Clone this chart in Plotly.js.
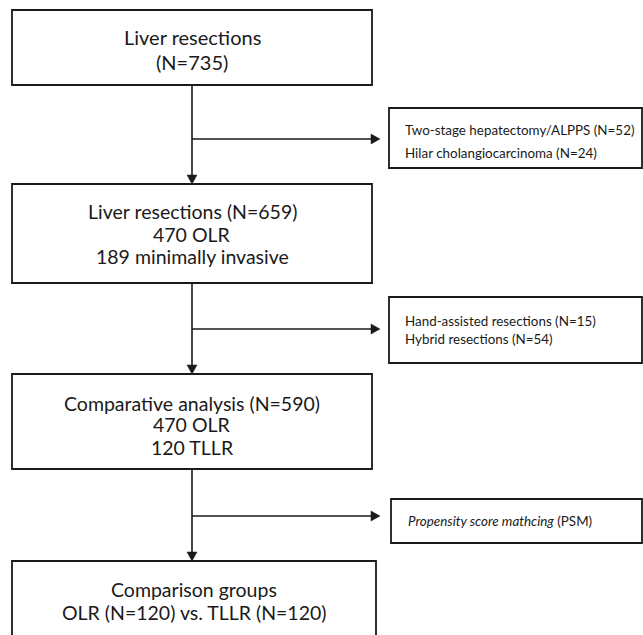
<!DOCTYPE html>
<html>
<head>
<meta charset="utf-8">
<script src="https://cdn.plot.ly/plotly-3.0.1.min.js"></script>
<style>html,body{margin:0;padding:0;background:#fff;}#chart{width:643px;height:635px;}</style>
</head>
<body>
<div id="chart"></div>
<script>
// ---- content (texts) ----
const mainBoxLines = [
  ["Liver resections", "(N=735)"],
  ["Liver resections (N=659)", "470 OLR", "189 minimally invasive"],
  ["Comparative analysis (N=590)", "470 OLR", "120 TLLR"],
  ["Comparison groups", "OLR (N=120) vs. TLLR (N=120)"]
];
const sideBoxLines = [
  ["Two-stage hepatectomy/ALPPS (N=52)", "Hilar cholangiocarcinoma (N=24)"],
  ["Hand-assisted resections (N=15)", "Hybrid resections (N=54)"],
  ["<i>Propensity score mathcing</i> (PSM)"]
];

// ---- geometry (layout only) ----
const W = 643, H = 635;
const mainGeom = [
  {x0: 12, x1: 372, y0: 10,  y1: 85,  lineY: [37, 62],        size: 20},
  {x0: 12, x1: 372, y0: 184, y1: 283, lineY: [211, 234, 256], size: 19.5},
  {x0: 12, x1: 372, y0: 374, y1: 469, lineY: [403, 424, 447], size: 19.5},
  {x0: 12, x1: 376, y0: 561, y1: 660, lineY: [589, 612],      size: 19.5}
];
const sideGeom = [
  {x0: 389, x1: 642, y0: 108, y1: 168, textX: 403, lineY: [130, 153], size: 13.4},
  {x0: 389, x1: 642, y0: 297, y1: 363, textX: 403, lineY: [321, 339], size: 13.4},
  {x0: 391, x1: 642, y0: 499, y1: 543, textX: 406, lineY: [521],      size: 13.4}
];
const spineX = 192;
const branchY = [139, 329, 516];
const branchEndX = 380;

const INK = '#1a1a1a';
const FONT = 'Lato, "Open Sans", sans-serif';
const shapes = [];
const annotations = [];

function box(g) {
  shapes.push({type: 'rect', xref: 'x', yref: 'y', x0: g.x0, x1: g.x1, y0: g.y0, y1: g.y1,
    line: {color: INK, width: 1.8}, fillcolor: 'rgba(0,0,0,0)'});
}
function seg(x0, y0, x1, y1) {
  shapes.push({type: 'line', xref: 'x', yref: 'y', x0, y0, x1, y1, line: {color: INK, width: 1.6}});
}
function headDown(x, y) {
  shapes.push({type: 'path', xref: 'x', yref: 'y',
    path: `M ${x-5} ${y-9} L ${x+5} ${y-9} L ${x} ${y} Z`, fillcolor: INK, line: {color: INK, width: 0.5}});
}
function headRight(x, y) {
  shapes.push({type: 'path', xref: 'x', yref: 'y',
    path: `M ${x-9} ${y-5} L ${x-9} ${y+5} L ${x} ${y} Z`, fillcolor: INK, line: {color: INK, width: 0.5}});
}

mainGeom.forEach((g, i) => {
  box(g);
  mainBoxLines[i].forEach((t, j) => {
    annotations.push({x: (g.x0 + g.x1) / 2, y: g.lineY[j], xref: 'x', yref: 'y', text: t, showarrow: false,
      xanchor: 'center', yanchor: 'middle', font: {family: FONT, size: g.size, color: INK}});
  });
});
sideGeom.forEach((g, i) => {
  box(g);
  sideBoxLines[i].forEach((t, j) => {
    annotations.push({x: g.textX, y: g.lineY[j], xref: 'x', yref: 'y', text: t, showarrow: false,
      xanchor: 'left', yanchor: 'middle', font: {family: FONT, size: g.size, color: INK}});
  });
});

// connectors
for (let i = 0; i < mainGeom.length - 1; i++) {
  const top = mainGeom[i].y1, bot = mainGeom[i + 1].y0;
  seg(spineX, top, spineX, bot - 8);
  headDown(spineX, bot);
  seg(spineX, branchY[i], branchEndX - 8, branchY[i]);
  headRight(branchEndX, branchY[i]);
}

const layout = {
  width: W, height: H,
  margin: {l: 0, r: 0, t: 0, b: 0},
  paper_bgcolor: '#fff', plot_bgcolor: '#fff',
  xaxis: {range: [0, W], visible: false, fixedrange: true},
  yaxis: {range: [H, 0], visible: false, fixedrange: true},
  showlegend: false,
  shapes, annotations
};
Plotly.newPlot('chart', [], layout, {displayModeBar: false, staticPlot: true});
</script>
</body>
</html>
